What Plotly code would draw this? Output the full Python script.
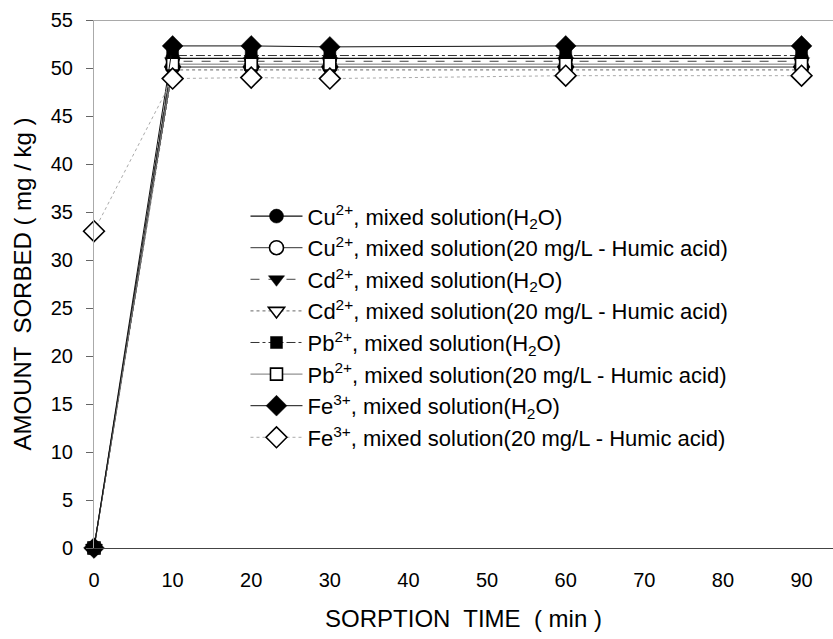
import plotly.graph_objects as go

# Sorption time (min)
time_min = [0, 10, 20, 30, 60, 90]

# Amount sorbed (mg/kg) for each metal ion and solution
cu_h2o = [0, 51.0, 51.0, 51.0, 51.0, 51.0]
cu_ha = [0, 50.1, 50.1, 50.1, 50.1, 50.1]
cd_h2o = [0, 50.7, 50.7, 50.7, 50.7, 50.7]
cd_ha = [0, 49.8, 49.8, 49.8, 49.8, 49.8]
pb_h2o = [0, 51.3, 51.3, 51.3, 51.3, 51.3]
pb_ha = [0, 50.4, 50.4, 50.4, 50.4, 50.4]
fe_h2o = [0, 52.3, 52.3, 52.2, 52.3, 52.3]
fe_ha = [33.0, 48.9, 49.0, 48.9, 49.2, 49.2]

series_names = [
    "Cu<sup>2+</sup>, mixed solution(H<sub>2</sub>O)",
    "Cu<sup>2+</sup>, mixed solution(20 mg/L - Humic acid)",
    "Cd<sup>2+</sup>, mixed solution(H<sub>2</sub>O)",
    "Cd<sup>2+</sup>, mixed solution(20 mg/L - Humic acid)",
    "Pb<sup>2+</sup>, mixed solution(H<sub>2</sub>O)",
    "Pb<sup>2+</sup>, mixed solution(20 mg/L - Humic acid)",
    "Fe<sup>3+</sup>, mixed solution(H<sub>2</sub>O)",
    "Fe<sup>3+</sup>, mixed solution(20 mg/L - Humic acid)",
]
series_values = [cu_h2o, cu_ha, cd_h2o, cd_ha, pb_h2o, pb_ha, fe_h2o, fe_ha]

# marker symbol, size, line colour, dash, line width
styles = [
    ("circle", 14, "#111111", "solid", 1.2),
    ("circle-open", 14, "#333333", "solid", 1),
    ("triangle-down", 14, "#444444", "dash", 1),
    ("triangle-down-open", 14, "#666666", "dot", 1),
    ("square", 12, "#333333", "dashdot", 1),
    ("square-open", 12, "#777777", "solid", 1),
    ("diamond", 16, "#111111", "solid", 1),
    ("diamond-open", 16, "#aaaaaa", "dot", 1),
]

FONT = "Liberation Sans, Arial, sans-serif"

fig = go.Figure()
for i, (name, vals, (sym, size, lcol, dash, lw)) in enumerate(zip(series_names, series_values, styles)):
    is_open = sym.endswith("-open")
    base = sym.replace("-open", "")
    fig.add_trace(go.Scatter(
        x=time_min,
        y=vals,
        name=name,
        legendgroup=f"g{i}",
        mode="lines+markers",
        cliponaxis=False,
        line=dict(color=lcol, width=lw, dash=dash),
        marker=dict(
            symbol=base,
            size=size,
            color="white" if is_open else "black",
            line=dict(color="black", width=1.6 if is_open else 0.5),
        ),
    ))

# frame line along the top of the plot area
fig.add_shape(type="line", xref="paper", yref="y", x0=0, x1=1, y0=55, y1=55,
              line=dict(color="#555555", width=1))

fig.update_layout(
    width=833,
    height=639,
    margin=dict(l=94, r=0, t=20, b=91),
    paper_bgcolor="white",
    plot_bgcolor="white",
    font=dict(family=FONT, size=20, color="black"),
    showlegend=True,
    legend=dict(
        x=0.205, y=0.668, xanchor="left", yanchor="top",
        bgcolor="rgba(0,0,0,0)",
        font=dict(family=FONT, size=22, color="black"),
        tracegroupgap=0,
        itemwidth=52,
    ),
    xaxis=dict(
        range=[0, 94],
        tickmode="array",
        tickvals=[0, 10, 20, 30, 40, 50, 60, 70, 80, 90],
        ticks="",
        ticklabelstandoff=14,
        showgrid=False,
        zeroline=False,
        showline=True,
        linecolor="#444444",
        linewidth=1,
        tickfont=dict(family=FONT, size=20),
        title=dict(text="SORPTION  TIME  ( min )", font=dict(family=FONT, size=24), standoff=20),
    ),
    yaxis=dict(
        range=[0, 55],
        tickmode="array",
        tickvals=[0, 5, 10, 15, 20, 25, 30, 35, 40, 45, 50, 55],
        ticks="outside",
        ticklen=7,
        tickcolor="#666666",
        ticklabelstandoff=9,
        showgrid=False,
        zeroline=False,
        showline=True,
        linecolor="#aaaaaa",
        linewidth=1,
        tickfont=dict(family=FONT, size=20),
        title=dict(text="AMOUNT  SORBED ( mg / kg )", font=dict(family=FONT, size=24), standoff=12),
    ),
)

fig.write_html("out.html")
